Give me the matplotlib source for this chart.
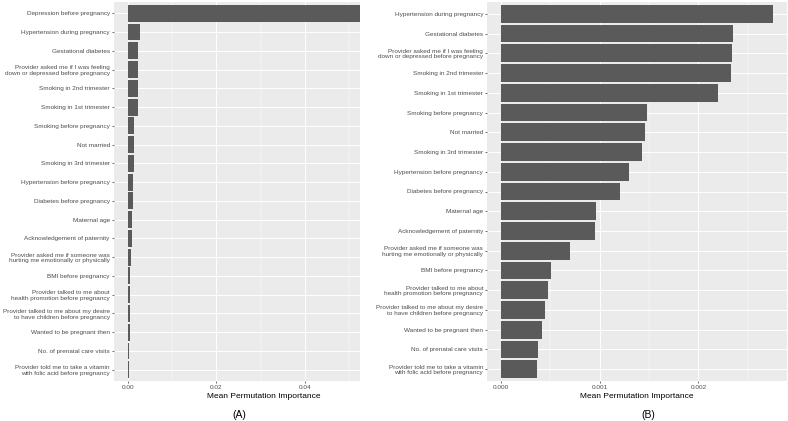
import matplotlib
matplotlib.use("Agg")
import matplotlib.pyplot as plt
from matplotlib.ticker import MultipleLocator

# Feature labels, shared by both panels (top to bottom as drawn)
features = [
    "Hypertension during pregnancy",
    "Gestational diabetes",
    "Provider asked me if I was feeling\ndown or depressed before pregnancy",
    "Smoking in 2nd trimester",
    "Smoking in 1st trimester",
    "Smoking before pregnancy",
    "Not married",
    "Smoking in 3rd trimester",
    "Hypertension before pregnancy",
    "Diabetes before pregnancy",
    "Maternal age",
    "Acknowledgement of paternity",
    "Provider asked me if someone was\nhurting me emotionally or physically",
    "BMI before pregnancy",
    "Provider talked to me about\nhealth promotion before pregnancy",
    "Provider talked to me about my desire\nto have children before pregnancy",
    "Wanted to be pregnant then",
    "No. of prenatal care visits",
    "Provider told me to take a vitamin\nwith folic acid before pregnancy",
]
importance = [0.002758, 0.00235, 0.002344, 0.002327, 0.002202, 0.001482,
              0.001462, 0.001431, 0.001297, 0.001206, 0.000967, 0.000953,
              0.000701, 0.000505, 0.000478, 0.000451, 0.000411, 0.000377,
              0.00037]

# Panel A has depression as an extra feature on top
features_a = ["Depression before pregnancy"] + features
importance_a = [0.062] + importance

plt.rcParams['font.family'] = ['Liberation Sans', 'DejaVu Sans']

W, H = 788, 421
fig = plt.figure(figsize=(W / 100, H / 100), dpi=100)


def panel(rect_px, labels, values, xlim, major, minor, fmt):
    l, t, r, b = rect_px
    ax = fig.add_axes([l / W, 1 - b / H, (r - l) / W, (b - t) / H])
    ax.set_facecolor('#EBEBEB')
    n = len(labels)
    ys = list(range(n))[::-1]
    ax.barh(ys, values, height=0.9, color='#5A5A5A', zorder=3)
    ax.set_ylim(-0.6, n - 1 + 0.6)
    ax.set_xlim(*xlim)
    ax.set_yticks(ys)
    ax.set_yticklabels(labels, fontsize=4.6, color='#4D4D4D', linespacing=1.15)
    ax.xaxis.set_major_locator(MultipleLocator(major))
    ax.xaxis.set_minor_locator(MultipleLocator(minor))
    ax.xaxis.set_major_formatter(lambda v, p: fmt.format(v))
    ax.tick_params(axis='x', labelsize=4.6, labelcolor='#4D4D4D', color='#333333',
                   length=1.5, width=0.5, pad=1.5)
    ax.tick_params(axis='y', color='#333333', length=1.5, width=0.5, pad=1.5)
    ax.tick_params(axis='x', which='minor', length=0)
    ax.grid(True, which='major', color='white', linewidth=0.7, zorder=0)
    ax.grid(True, which='minor', axis='x', color='white', linewidth=0.35, zorder=0)
    ax.set_axisbelow(True)
    for s in ax.spines.values():
        s.set_visible(False)
    return ax


panel((114, 2, 360, 381), features_a, importance_a,
      (-0.0031, 0.0524), 0.02, 0.01, "{:.2f}")
panel((487.3, 2, 787, 381), features, importance,
      (-0.000138, 0.002896), 0.001, 0.0005, "{:.3f}")

fig.text(264 / W, 1 - 396 / H, "Mean Permutation Importance", ha='center',
         va='center', fontsize=6, color='black')
fig.text(637 / W, 1 - 396 / H, "Mean Permutation Importance", ha='center',
         va='center', fontsize=6, color='black')
fig.text(239 / W, 1 - 415 / H, "(A)", ha='center', va='center', fontsize=7.5)
fig.text(648.5 / W, 1 - 415 / H, "(B)", ha='center', va='center', fontsize=7.5)

fig.savefig("out.png", dpi=100)
